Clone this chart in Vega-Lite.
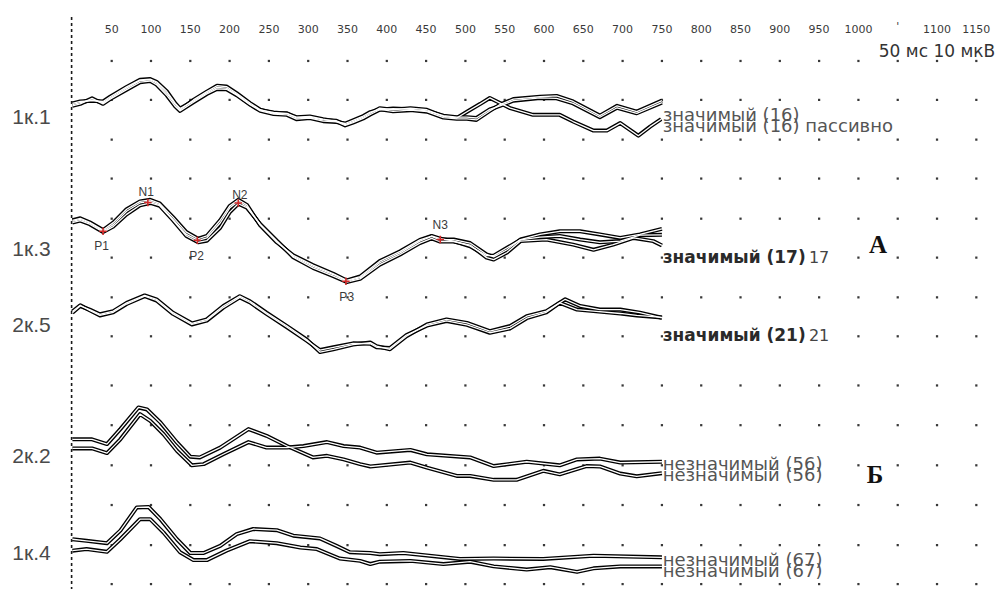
{
  "$schema": "https://vega.github.io/schema/vega-lite/v6.json",
  "width": 997,
  "height": 590,
  "padding": 0,
  "autosize": {"type": "fit", "contains": "padding"},
  "background": "white",
  "view": {"stroke": null},
  "datasets": {
    "dots": [
      {"t":50,"v":15.5},{"t":100,"v":15.5},{"t":150,"v":15.5},{"t":200,"v":15.5},{"t":250,"v":15.5},{"t":300,"v":15.5},{"t":350,"v":15.5},{"t":400,"v":15.5},{"t":450,"v":15.5},{"t":500,"v":15.5},{"t":550,"v":15.5},{"t":600,"v":15.5},{"t":650,"v":15.5},{"t":700,"v":15.5},{"t":750,"v":15.5},{"t":800,"v":15.5},{"t":850,"v":15.5},{"t":900,"v":15.5},{"t":950,"v":15.5},{"t":1000,"v":15.5},{"t":1050,"v":15.5},{"t":1100,"v":15.5},{"t":1150,"v":15.5},
      {"t":50,"v":25.4},{"t":100,"v":25.4},{"t":150,"v":25.4},{"t":200,"v":25.4},{"t":250,"v":25.4},{"t":300,"v":25.4},{"t":350,"v":25.4},{"t":400,"v":25.4},{"t":450,"v":25.4},{"t":500,"v":25.4},{"t":550,"v":25.4},{"t":600,"v":25.4},{"t":650,"v":25.4},{"t":700,"v":25.4},{"t":750,"v":25.4},{"t":800,"v":25.4},{"t":850,"v":25.4},{"t":900,"v":25.4},{"t":950,"v":25.4},{"t":1000,"v":25.4},{"t":1050,"v":25.4},{"t":1100,"v":25.4},{"t":1150,"v":25.4},
      {"t":50,"v":35.5},{"t":100,"v":35.5},{"t":150,"v":35.5},{"t":200,"v":35.5},{"t":250,"v":35.5},{"t":300,"v":35.5},{"t":350,"v":35.5},{"t":400,"v":35.5},{"t":450,"v":35.5},{"t":500,"v":35.5},{"t":550,"v":35.5},{"t":600,"v":35.5},{"t":650,"v":35.5},{"t":700,"v":35.5},{"t":750,"v":35.5},{"t":800,"v":35.5},{"t":850,"v":35.5},{"t":900,"v":35.5},{"t":950,"v":35.5},{"t":1000,"v":35.5},{"t":1050,"v":35.5},{"t":1100,"v":35.5},{"t":1150,"v":35.5},
      {"t":50,"v":45.4},{"t":100,"v":45.4},{"t":150,"v":45.4},{"t":200,"v":45.4},{"t":250,"v":45.4},{"t":300,"v":45.4},{"t":350,"v":45.4},{"t":400,"v":45.4},{"t":450,"v":45.4},{"t":500,"v":45.4},{"t":550,"v":45.4},{"t":600,"v":45.4},{"t":650,"v":45.4},{"t":700,"v":45.4},{"t":750,"v":45.4},{"t":800,"v":45.4},{"t":850,"v":45.4},{"t":900,"v":45.4},{"t":950,"v":45.4},{"t":1000,"v":45.4},{"t":1050,"v":45.4},{"t":1100,"v":45.4},{"t":1150,"v":45.4},
      {"t":50,"v":55.6},{"t":100,"v":55.6},{"t":150,"v":55.6},{"t":200,"v":55.6},{"t":250,"v":55.6},{"t":300,"v":55.6},{"t":350,"v":55.6},{"t":400,"v":55.6},{"t":450,"v":55.6},{"t":500,"v":55.6},{"t":550,"v":55.6},{"t":600,"v":55.6},{"t":650,"v":55.6},{"t":700,"v":55.6},{"t":750,"v":55.6},{"t":800,"v":55.6},{"t":850,"v":55.6},{"t":900,"v":55.6},{"t":950,"v":55.6},{"t":1000,"v":55.6},{"t":1050,"v":55.6},{"t":1100,"v":55.6},{"t":1150,"v":55.6},
      {"t":50,"v":65.5},{"t":100,"v":65.5},{"t":150,"v":65.5},{"t":200,"v":65.5},{"t":250,"v":65.5},{"t":300,"v":65.5},{"t":350,"v":65.5},{"t":400,"v":65.5},{"t":450,"v":65.5},{"t":500,"v":65.5},{"t":550,"v":65.5},{"t":600,"v":65.5},{"t":650,"v":65.5},{"t":700,"v":65.5},{"t":750,"v":65.5},{"t":1000,"v":65.5},{"t":1050,"v":65.5},{"t":1100,"v":65.5},{"t":1150,"v":65.5},
      {"t":50,"v":75.6},{"t":100,"v":75.6},{"t":150,"v":75.6},{"t":200,"v":75.6},{"t":250,"v":75.6},{"t":300,"v":75.6},{"t":350,"v":75.6},{"t":400,"v":75.6},{"t":450,"v":75.6},{"t":500,"v":75.6},{"t":550,"v":75.6},{"t":600,"v":75.6},{"t":650,"v":75.6},{"t":700,"v":75.6},{"t":750,"v":75.6},{"t":800,"v":75.6},{"t":850,"v":75.6},{"t":900,"v":75.6},{"t":950,"v":75.6},{"t":1000,"v":75.6},{"t":1050,"v":75.6},{"t":1100,"v":75.6},{"t":1150,"v":75.6},
      {"t":50,"v":85.5},{"t":100,"v":85.5},{"t":150,"v":85.5},{"t":200,"v":85.5},{"t":250,"v":85.5},{"t":300,"v":85.5},{"t":350,"v":85.5},{"t":400,"v":85.5},{"t":450,"v":85.5},{"t":500,"v":85.5},{"t":550,"v":85.5},{"t":600,"v":85.5},{"t":650,"v":85.5},{"t":700,"v":85.5},{"t":750,"v":85.5},{"t":1000,"v":85.5},{"t":1050,"v":85.5},{"t":1100,"v":85.5},{"t":1150,"v":85.5},
      {"t":50,"v":98.0},{"t":100,"v":98.0},{"t":150,"v":98.0},{"t":200,"v":98.0},{"t":250,"v":98.0},{"t":300,"v":98.0},{"t":350,"v":98.0},{"t":400,"v":98.0},{"t":450,"v":98.0},{"t":500,"v":98.0},{"t":550,"v":98.0},{"t":600,"v":98.0},{"t":650,"v":98.0},{"t":700,"v":98.0},{"t":750,"v":98.0},{"t":800,"v":98.0},{"t":850,"v":98.0},{"t":900,"v":98.0},{"t":950,"v":98.0},{"t":1000,"v":98.0},{"t":1050,"v":98.0},{"t":1100,"v":98.0},{"t":1150,"v":98.0},
      {"t":50,"v":108.1},{"t":100,"v":108.1},{"t":150,"v":108.1},{"t":200,"v":108.1},{"t":250,"v":108.1},{"t":300,"v":108.1},{"t":350,"v":108.1},{"t":400,"v":108.1},{"t":450,"v":108.1},{"t":500,"v":108.1},{"t":550,"v":108.1},{"t":600,"v":108.1},{"t":650,"v":108.1},{"t":700,"v":108.1},{"t":750,"v":108.1},{"t":800,"v":108.1},{"t":850,"v":108.1},{"t":900,"v":108.1},{"t":950,"v":108.1},{"t":1000,"v":108.1},{"t":1050,"v":108.1},{"t":1100,"v":108.1},{"t":1150,"v":108.1},
      {"t":50,"v":118.3},{"t":100,"v":118.3},{"t":150,"v":118.3},{"t":200,"v":118.3},{"t":250,"v":118.3},{"t":300,"v":118.3},{"t":350,"v":118.3},{"t":400,"v":118.3},{"t":450,"v":118.3},{"t":500,"v":118.3},{"t":550,"v":118.3},{"t":600,"v":118.3},{"t":650,"v":118.3},{"t":700,"v":118.3},{"t":750,"v":118.3},{"t":1000,"v":118.3},{"t":1050,"v":118.3},{"t":1100,"v":118.3},{"t":1150,"v":118.3},
      {"t":50,"v":128.4},{"t":100,"v":128.4},{"t":150,"v":128.4},{"t":200,"v":128.4},{"t":250,"v":128.4},{"t":300,"v":128.4},{"t":350,"v":128.4},{"t":400,"v":128.4},{"t":450,"v":128.4},{"t":500,"v":128.4},{"t":550,"v":128.4},{"t":600,"v":128.4},{"t":650,"v":128.4},{"t":700,"v":128.4},{"t":750,"v":128.4},{"t":800,"v":128.4},{"t":850,"v":128.4},{"t":900,"v":128.4},{"t":950,"v":128.4},{"t":1000,"v":128.4},{"t":1050,"v":128.4},{"t":1100,"v":128.4},{"t":1150,"v":128.4},
      {"t":50,"v":138.6},{"t":100,"v":138.6},{"t":150,"v":138.6},{"t":200,"v":138.6},{"t":250,"v":138.6},{"t":300,"v":138.6},{"t":350,"v":138.6},{"t":400,"v":138.6},{"t":450,"v":138.6},{"t":500,"v":138.6},{"t":550,"v":138.6},{"t":600,"v":138.6},{"t":650,"v":138.6},{"t":700,"v":138.6},{"t":750,"v":138.6},{"t":800,"v":138.6},{"t":850,"v":138.6},{"t":900,"v":138.6},{"t":950,"v":138.6},{"t":1000,"v":138.6},{"t":1050,"v":138.6},{"t":1100,"v":138.6},{"t":1150,"v":138.6},
      {"t":50,"v":148.5},{"t":100,"v":148.5},{"t":150,"v":148.5},{"t":200,"v":148.5},{"t":250,"v":148.5},{"t":300,"v":148.5},{"t":350,"v":148.5},{"t":400,"v":148.5},{"t":450,"v":148.5},{"t":500,"v":148.5},{"t":550,"v":148.5},{"t":600,"v":148.5},{"t":650,"v":148.5},{"t":700,"v":148.5},{"t":750,"v":148.5},{"t":800,"v":148.5},{"t":850,"v":148.5},{"t":900,"v":148.5},{"t":950,"v":148.5},{"t":1000,"v":148.5},{"t":1050,"v":148.5},{"t":1100,"v":148.5},{"t":1150,"v":148.5}
    ],
    "onset": [{"t": -1, "v": 4.3, "v2": 149.75}],
    "traces": [
      {"id":"1.1a","t":0,"v":26.6},{"id":"1.1a","t":10,"v":26.1},{"id":"1.1a","t":25,"v":25.4},{"id":"1.1a","t":39,"v":26.1},{"id":"1.1a","t":48,"v":24.9},{"id":"1.1a","t":69,"v":22.4},{"id":"1.1a","t":86,"v":20.5},{"id":"1.1a","t":99,"v":20.3},{"id":"1.1a","t":107,"v":21.1},{"id":"1.1a","t":120,"v":23.7},{"id":"1.1a","t":131,"v":26.6},{"id":"1.1a","t":137,"v":27.9},{"id":"1.1a","t":154,"v":25.4},{"id":"1.1a","t":171,"v":23.3},{"id":"1.1a","t":184,"v":21.8},{"id":"1.1a","t":196,"v":22.0},{"id":"1.1a","t":209,"v":23.7},{"id":"1.1a","t":226,"v":26.2},{"id":"1.1a","t":239,"v":27.9},{"id":"1.1a","t":256,"v":28.8},{"id":"1.1a","t":273,"v":28.8},{"id":"1.1a","t":285,"v":30.0},{"id":"1.1a","t":302,"v":29.8},{"id":"1.1a","t":319,"v":30.5},{"id":"1.1a","t":336,"v":30.7},{"id":"1.1a","t":347,"v":31.7},{"id":"1.1a","t":357,"v":30.9},{"id":"1.1a","t":370,"v":29.8},{"id":"1.1a","t":379,"v":28.8},{"id":"1.1a","t":391,"v":27.5},{"id":"1.1a","t":408,"v":27.9},{"id":"1.1a","t":430,"v":27.5},{"id":"1.1a","t":451,"v":27.9},{"id":"1.1a","t":472,"v":29.6},{"id":"1.1a","t":489,"v":30.0},{"id":"1.1a","t":502,"v":28.4},{"id":"1.1a","t":519,"v":26.4},{"id":"1.1a","t":531,"v":24.9},{"id":"1.1a","t":544,"v":26.2},{"id":"1.1a","t":557,"v":27.5},{"id":"1.1a","t":586,"v":29.2},{"id":"1.1a","t":620,"v":29.2},{"id":"1.1a","t":637,"v":30.9},{"id":"1.1a","t":663,"v":33.2},{"id":"1.1a","t":680,"v":33.2},{"id":"1.1a","t":697,"v":31.3},{"id":"1.1a","t":720,"v":34.5},{"id":"1.1a","t":735,"v":32.2},{"id":"1.1a","t":749,"v":30.3},
      {"id":"1.1b","t":0,"v":26.9},{"id":"1.1b","t":10,"v":26.4},{"id":"1.1b","t":25,"v":25.0},{"id":"1.1b","t":39,"v":26.4},{"id":"1.1b","t":48,"v":25.2},{"id":"1.1b","t":69,"v":22.8},{"id":"1.1b","t":86,"v":20.9},{"id":"1.1b","t":99,"v":20.6},{"id":"1.1b","t":107,"v":21.5},{"id":"1.1b","t":120,"v":24.2},{"id":"1.1b","t":131,"v":27.1},{"id":"1.1b","t":137,"v":28.2},{"id":"1.1b","t":154,"v":26.0},{"id":"1.1b","t":171,"v":23.9},{"id":"1.1b","t":184,"v":22.6},{"id":"1.1b","t":196,"v":22.7},{"id":"1.1b","t":209,"v":24.2},{"id":"1.1b","t":226,"v":26.6},{"id":"1.1b","t":239,"v":28.2},{"id":"1.1b","t":256,"v":29.0},{"id":"1.1b","t":273,"v":29.2},{"id":"1.1b","t":285,"v":30.3},{"id":"1.1b","t":302,"v":30.0},{"id":"1.1b","t":319,"v":30.8},{"id":"1.1b","t":336,"v":31.0},{"id":"1.1b","t":347,"v":31.4},{"id":"1.1b","t":357,"v":30.6},{"id":"1.1b","t":370,"v":29.5},{"id":"1.1b","t":379,"v":28.5},{"id":"1.1b","t":391,"v":27.8},{"id":"1.1b","t":408,"v":28.3},{"id":"1.1b","t":430,"v":28.0},{"id":"1.1b","t":451,"v":28.4},{"id":"1.1b","t":472,"v":29.9},{"id":"1.1b","t":489,"v":30.2},{"id":"1.1b","t":502,"v":30.2},{"id":"1.1b","t":514,"v":30.5},{"id":"1.1b","t":531,"v":28.2},{"id":"1.1b","t":544,"v":26.6},{"id":"1.1b","t":561,"v":25.2},{"id":"1.1b","t":595,"v":24.6},{"id":"1.1b","t":616,"v":24.4},{"id":"1.1b","t":637,"v":25.8},{"id":"1.1b","t":671,"v":29.4},{"id":"1.1b","t":693,"v":26.9},{"id":"1.1b","t":718,"v":28.4},{"id":"1.1b","t":750,"v":25.6},
      {"id":"1.1c","t":0,"v":26.3},{"id":"1.1c","t":10,"v":25.8},{"id":"1.1c","t":25,"v":25.6},{"id":"1.1c","t":39,"v":25.8},{"id":"1.1c","t":48,"v":24.6},{"id":"1.1c","t":69,"v":22.1},{"id":"1.1c","t":86,"v":20.3},{"id":"1.1c","t":99,"v":20.1},{"id":"1.1c","t":107,"v":20.8},{"id":"1.1c","t":120,"v":23.2},{"id":"1.1c","t":131,"v":26.3},{"id":"1.1c","t":137,"v":27.6},{"id":"1.1c","t":154,"v":25.7},{"id":"1.1c","t":171,"v":23.6},{"id":"1.1c","t":184,"v":22.2},{"id":"1.1c","t":196,"v":22.4},{"id":"1.1c","t":209,"v":24.0},{"id":"1.1c","t":226,"v":26.5},{"id":"1.1c","t":239,"v":28.0},{"id":"1.1c","t":256,"v":28.6},{"id":"1.1c","t":273,"v":28.9},{"id":"1.1c","t":285,"v":29.8},{"id":"1.1c","t":302,"v":29.6},{"id":"1.1c","t":319,"v":30.3},{"id":"1.1c","t":336,"v":30.9},{"id":"1.1c","t":347,"v":31.9},{"id":"1.1c","t":357,"v":31.2},{"id":"1.1c","t":370,"v":30.1},{"id":"1.1c","t":379,"v":29.1},{"id":"1.1c","t":391,"v":27.9},{"id":"1.1c","t":408,"v":27.6},{"id":"1.1c","t":430,"v":27.8},{"id":"1.1c","t":451,"v":28.2},{"id":"1.1c","t":472,"v":29.4},{"id":"1.1c","t":489,"v":29.8},{"id":"1.1c","t":502,"v":29.8},{"id":"1.1c","t":514,"v":30.0},{"id":"1.1c","t":531,"v":27.8},{"id":"1.1c","t":544,"v":26.9},{"id":"1.1c","t":561,"v":25.6},{"id":"1.1c","t":595,"v":24.9},{"id":"1.1c","t":616,"v":25.0},{"id":"1.1c","t":637,"v":26.3},{"id":"1.1c","t":671,"v":29.8},{"id":"1.1c","t":693,"v":27.4},{"id":"1.1c","t":718,"v":28.8},{"id":"1.1c","t":750,"v":26.1},
      {"id":"1.3a","t":0,"v":56.3},{"id":"1.3a","t":10,"v":55.8},{"id":"1.3a","t":22,"v":56.7},{"id":"1.3a","t":39,"v":58.8},{"id":"1.3a","t":52,"v":57.1},{"id":"1.3a","t":69,"v":53.7},{"id":"1.3a","t":86,"v":51.6},{"id":"1.3a","t":99,"v":51.2},{"id":"1.3a","t":111,"v":52.0},{"id":"1.3a","t":128,"v":55.8},{"id":"1.3a","t":145,"v":59.6},{"id":"1.3a","t":160,"v":61.1},{"id":"1.3a","t":171,"v":60.5},{"id":"1.3a","t":188,"v":56.7},{"id":"1.3a","t":200,"v":52.9},{"id":"1.3a","t":211,"v":51.2},{"id":"1.3a","t":222,"v":52.5},{"id":"1.3a","t":239,"v":57.1},{"id":"1.3a","t":260,"v":61.3},{"id":"1.3a","t":281,"v":65.2},{"id":"1.3a","t":306,"v":67.7},{"id":"1.3a","t":332,"v":69.8},{"id":"1.3a","t":349,"v":71.5},{"id":"1.3a","t":366,"v":70.6},{"id":"1.3a","t":391,"v":66.8},{"id":"1.3a","t":417,"v":64.3},{"id":"1.3a","t":442,"v":61.3},{"id":"1.3a","t":457,"v":60.1},{"id":"1.3a","t":467,"v":60.9},{"id":"1.3a","t":485,"v":60.9},{"id":"1.3a","t":506,"v":61.8},{"id":"1.3a","t":527,"v":64.7},{"id":"1.3a","t":536,"v":65.3},{"id":"1.3a","t":553,"v":63.5},{"id":"1.3a","t":570,"v":60.9},{"id":"1.3a","t":595,"v":59.6},{"id":"1.3a","t":620,"v":58.8},{"id":"1.3a","t":646,"v":58.8},{"id":"1.3a","t":671,"v":59.6},{"id":"1.3a","t":697,"v":60.5},{"id":"1.3a","t":722,"v":59.6},{"id":"1.3a","t":750,"v":58.2},
      {"id":"1.3b","t":0,"v":56.6},{"id":"1.3b","t":10,"v":56.1},{"id":"1.3b","t":22,"v":57.0},{"id":"1.3b","t":39,"v":59.0},{"id":"1.3b","t":52,"v":57.6},{"id":"1.3b","t":69,"v":54.5},{"id":"1.3b","t":86,"v":52.2},{"id":"1.3b","t":99,"v":51.6},{"id":"1.3b","t":111,"v":52.3},{"id":"1.3b","t":128,"v":56.0},{"id":"1.3b","t":145,"v":60.0},{"id":"1.3b","t":160,"v":61.6},{"id":"1.3b","t":171,"v":61.2},{"id":"1.3b","t":188,"v":57.9},{"id":"1.3b","t":200,"v":54.0},{"id":"1.3b","t":211,"v":51.8},{"id":"1.3b","t":222,"v":52.8},{"id":"1.3b","t":239,"v":57.0},{"id":"1.3b","t":260,"v":61.2},{"id":"1.3b","t":281,"v":65.4},{"id":"1.3b","t":306,"v":68.1},{"id":"1.3b","t":332,"v":70.2},{"id":"1.3b","t":349,"v":71.7},{"id":"1.3b","t":366,"v":70.9},{"id":"1.3b","t":391,"v":67.3},{"id":"1.3b","t":417,"v":64.7},{"id":"1.3b","t":442,"v":61.8},{"id":"1.3b","t":457,"v":60.6},{"id":"1.3b","t":467,"v":61.4},{"id":"1.3b","t":485,"v":61.4},{"id":"1.3b","t":506,"v":62.3},{"id":"1.3b","t":527,"v":65.5},{"id":"1.3b","t":536,"v":66.0},{"id":"1.3b","t":553,"v":64.2},{"id":"1.3b","t":570,"v":61.3},{"id":"1.3b","t":603,"v":60.9},{"id":"1.3b","t":637,"v":62.2},{"id":"1.3b","t":663,"v":63.5},{"id":"1.3b","t":688,"v":62.2},{"id":"1.3b","t":714,"v":60.5},{"id":"1.3b","t":739,"v":61.3},{"id":"1.3b","t":750,"v":62.4},
      {"id":"1.3c","t":0,"v":56.0},{"id":"1.3c","t":10,"v":55.5},{"id":"1.3c","t":22,"v":56.5},{"id":"1.3c","t":39,"v":58.5},{"id":"1.3c","t":52,"v":56.6},{"id":"1.3c","t":69,"v":53.2},{"id":"1.3c","t":86,"v":51.2},{"id":"1.3c","t":99,"v":50.8},{"id":"1.3c","t":111,"v":51.7},{"id":"1.3c","t":128,"v":55.2},{"id":"1.3c","t":145,"v":59.0},{"id":"1.3c","t":160,"v":60.7},{"id":"1.3c","t":171,"v":60.0},{"id":"1.3c","t":188,"v":56.0},{"id":"1.3c","t":200,"v":52.4},{"id":"1.3c","t":211,"v":50.8},{"id":"1.3c","t":222,"v":52.1},{"id":"1.3c","t":239,"v":57.3},{"id":"1.3c","t":260,"v":61.6},{"id":"1.3c","t":281,"v":64.9},{"id":"1.3c","t":306,"v":67.4},{"id":"1.3c","t":332,"v":69.6},{"id":"1.3c","t":349,"v":71.3},{"id":"1.3c","t":366,"v":70.3},{"id":"1.3c","t":391,"v":66.4},{"id":"1.3c","t":417,"v":63.9},{"id":"1.3c","t":442,"v":61.0},{"id":"1.3c","t":457,"v":60.0},{"id":"1.3c","t":467,"v":60.6},{"id":"1.3c","t":485,"v":61.3},{"id":"1.3c","t":506,"v":62.6},{"id":"1.3c","t":527,"v":65.0},{"id":"1.3c","t":536,"v":65.0},{"id":"1.3c","t":553,"v":63.0},{"id":"1.3c","t":570,"v":61.0},{"id":"1.3c","t":595,"v":60.3},{"id":"1.3c","t":620,"v":60.0},{"id":"1.3c","t":646,"v":60.9},{"id":"1.3c","t":671,"v":61.6},{"id":"1.3c","t":697,"v":61.3},{"id":"1.3c","t":722,"v":59.8},{"id":"1.3c","t":750,"v":59.7},
      {"id":"2.5a","t":0,"v":79.5},{"id":"2.5a","t":10,"v":77.8},{"id":"2.5a","t":22,"v":78.7},{"id":"2.5a","t":35,"v":79.9},{"id":"2.5a","t":52,"v":79.1},{"id":"2.5a","t":69,"v":77.0},{"id":"2.5a","t":92,"v":75.1},{"id":"2.5a","t":107,"v":76.1},{"id":"2.5a","t":128,"v":79.5},{"id":"2.5a","t":152,"v":82.2},{"id":"2.5a","t":171,"v":81.2},{"id":"2.5a","t":192,"v":77.8},{"id":"2.5a","t":213,"v":75.3},{"id":"2.5a","t":226,"v":76.6},{"id":"2.5a","t":247,"v":79.5},{"id":"2.5a","t":273,"v":82.9},{"id":"2.5a","t":298,"v":86.3},{"id":"2.5a","t":315,"v":89.5},{"id":"2.5a","t":332,"v":88.8},{"id":"2.5a","t":357,"v":87.6},{"id":"2.5a","t":379,"v":87.1},{"id":"2.5a","t":387,"v":88.0},{"id":"2.5a","t":404,"v":88.8},{"id":"2.5a","t":425,"v":85.5},{"id":"2.5a","t":451,"v":82.5},{"id":"2.5a","t":476,"v":81.2},{"id":"2.5a","t":502,"v":82.1},{"id":"2.5a","t":531,"v":84.2},{"id":"2.5a","t":557,"v":82.9},{"id":"2.5a","t":578,"v":80.4},{"id":"2.5a","t":603,"v":79.1},{"id":"2.5a","t":627,"v":76.1},{"id":"2.5a","t":646,"v":77.8},{"id":"2.5a","t":671,"v":78.7},{"id":"2.5a","t":697,"v":78.7},{"id":"2.5a","t":722,"v":79.5},{"id":"2.5a","t":750,"v":80.8},
      {"id":"2.5b","t":0,"v":79.2},{"id":"2.5b","t":10,"v":77.6},{"id":"2.5b","t":22,"v":78.9},{"id":"2.5b","t":35,"v":80.2},{"id":"2.5b","t":52,"v":79.4},{"id":"2.5b","t":69,"v":77.3},{"id":"2.5b","t":92,"v":75.3},{"id":"2.5b","t":107,"v":76.4},{"id":"2.5b","t":128,"v":79.8},{"id":"2.5b","t":152,"v":82.5},{"id":"2.5b","t":171,"v":81.5},{"id":"2.5b","t":192,"v":78.2},{"id":"2.5b","t":213,"v":75.6},{"id":"2.5b","t":226,"v":76.9},{"id":"2.5b","t":247,"v":79.8},{"id":"2.5b","t":273,"v":83.2},{"id":"2.5b","t":298,"v":86.6},{"id":"2.5b","t":315,"v":89.0},{"id":"2.5b","t":332,"v":88.3},{"id":"2.5b","t":357,"v":87.3},{"id":"2.5b","t":379,"v":87.4},{"id":"2.5b","t":387,"v":88.3},{"id":"2.5b","t":404,"v":88.5},{"id":"2.5b","t":425,"v":85.2},{"id":"2.5b","t":451,"v":82.8},{"id":"2.5b","t":476,"v":81.6},{"id":"2.5b","t":502,"v":82.6},{"id":"2.5b","t":531,"v":84.6},{"id":"2.5b","t":557,"v":83.5},{"id":"2.5b","t":578,"v":80.9},{"id":"2.5b","t":603,"v":79.4},{"id":"2.5b","t":620,"v":77.0},{"id":"2.5b","t":642,"v":78.7},{"id":"2.5b","t":663,"v":79.1},{"id":"2.5b","t":697,"v":79.7},{"id":"2.5b","t":718,"v":80.2},{"id":"2.5b","t":750,"v":80.7},
      {"id":"2.2a","t":0,"v":111.7},{"id":"2.2a","t":25,"v":111.7},{"id":"2.2a","t":44,"v":112.9},{"id":"2.2a","t":61,"v":109.1},{"id":"2.2a","t":84,"v":103.6},{"id":"2.2a","t":95,"v":104.1},{"id":"2.2a","t":112,"v":107.4},{"id":"2.2a","t":133,"v":112.5},{"id":"2.2a","t":150,"v":116.1},{"id":"2.2a","t":162,"v":116.3},{"id":"2.2a","t":188,"v":113.8},{"id":"2.2a","t":224,"v":109.1},{"id":"2.2a","t":247,"v":110.8},{"id":"2.2a","t":273,"v":113.4},{"id":"2.2a","t":306,"v":116.3},{"id":"2.2a","t":324,"v":115.9},{"id":"2.2a","t":345,"v":116.8},{"id":"2.2a","t":366,"v":118.0},{"id":"2.2a","t":379,"v":118.6},{"id":"2.2a","t":430,"v":117.6},{"id":"2.2a","t":451,"v":118.9},{"id":"2.2a","t":489,"v":121.0},{"id":"2.2a","t":506,"v":121.0},{"id":"2.2a","t":536,"v":122.0},{"id":"2.2a","t":565,"v":122.0},{"id":"2.2a","t":599,"v":119.7},{"id":"2.2a","t":620,"v":120.6},{"id":"2.2a","t":654,"v":118.5},{"id":"2.2a","t":671,"v":118.6},{"id":"2.2a","t":697,"v":120.4},{"id":"2.2a","t":718,"v":121.1},{"id":"2.2a","t":750,"v":120.3},
      {"id":"2.2b","t":0,"v":114.0},{"id":"2.2b","t":25,"v":114.0},{"id":"2.2b","t":44,"v":115.2},{"id":"2.2b","t":61,"v":111.7},{"id":"2.2b","t":86,"v":105.3},{"id":"2.2b","t":99,"v":107.0},{"id":"2.2b","t":116,"v":110.4},{"id":"2.2b","t":133,"v":114.6},{"id":"2.2b","t":152,"v":118.3},{"id":"2.2b","t":167,"v":118.0},{"id":"2.2b","t":192,"v":115.5},{"id":"2.2b","t":224,"v":112.4},{"id":"2.2b","t":247,"v":113.8},{"id":"2.2b","t":273,"v":113.8},{"id":"2.2b","t":294,"v":113.4},{"id":"2.2b","t":324,"v":112.4},{"id":"2.2b","t":345,"v":113.4},{"id":"2.2b","t":366,"v":113.8},{"id":"2.2b","t":387,"v":115.1},{"id":"2.2b","t":430,"v":114.4},{"id":"2.2b","t":451,"v":115.5},{"id":"2.2b","t":506,"v":116.3},{"id":"2.2b","t":536,"v":118.5},{"id":"2.2b","t":578,"v":117.4},{"id":"2.2b","t":620,"v":118.3},{"id":"2.2b","t":642,"v":116.8},{"id":"2.2b","t":671,"v":116.6},{"id":"2.2b","t":697,"v":117.6},{"id":"2.2b","t":750,"v":117.4},
      {"id":"1.4a","t":0,"v":137.1},{"id":"1.4a","t":18,"v":137.5},{"id":"1.4a","t":44,"v":138.1},{"id":"1.4a","t":61,"v":134.9},{"id":"1.4a","t":82,"v":129.0},{"id":"1.4a","t":97,"v":128.9},{"id":"1.4a","t":112,"v":132.0},{"id":"1.4a","t":133,"v":137.1},{"id":"1.4a","t":150,"v":140.6},{"id":"1.4a","t":167,"v":140.6},{"id":"1.4a","t":188,"v":138.8},{"id":"1.4a","t":209,"v":135.8},{"id":"1.4a","t":230,"v":134.5},{"id":"1.4a","t":260,"v":134.8},{"id":"1.4a","t":281,"v":136.2},{"id":"1.4a","t":315,"v":136.9},{"id":"1.4a","t":336,"v":138.8},{"id":"1.4a","t":353,"v":140.4},{"id":"1.4a","t":379,"v":140.6},{"id":"1.4a","t":391,"v":140.9},{"id":"1.4a","t":421,"v":140.6},{"id":"1.4a","t":493,"v":142.1},{"id":"1.4a","t":536,"v":142.0},{"id":"1.4a","t":599,"v":142.1},{"id":"1.4a","t":663,"v":141.3},{"id":"1.4a","t":750,"v":141.7},
      {"id":"1.4b","t":0,"v":140.0},{"id":"1.4b","t":18,"v":139.6},{"id":"1.4b","t":44,"v":140.3},{"id":"1.4b","t":61,"v":137.1},{"id":"1.4b","t":86,"v":132.0},{"id":"1.4b","t":99,"v":132.0},{"id":"1.4b","t":116,"v":135.4},{"id":"1.4b","t":137,"v":140.4},{"id":"1.4b","t":154,"v":142.4},{"id":"1.4b","t":171,"v":142.4},{"id":"1.4b","t":196,"v":140.0},{"id":"1.4b","t":226,"v":137.6},{"id":"1.4b","t":260,"v":138.1},{"id":"1.4b","t":290,"v":139.2},{"id":"1.4b","t":311,"v":139.6},{"id":"1.4b","t":340,"v":142.0},{"id":"1.4b","t":366,"v":142.6},{"id":"1.4b","t":379,"v":143.4},{"id":"1.4b","t":391,"v":142.8},{"id":"1.4b","t":430,"v":142.6},{"id":"1.4b","t":472,"v":143.4},{"id":"1.4b","t":506,"v":142.8},{"id":"1.4b","t":536,"v":144.0},{"id":"1.4b","t":578,"v":144.8},{"id":"1.4b","t":608,"v":144.2},{"id":"1.4b","t":642,"v":145.4},{"id":"1.4b","t":663,"v":144.5},{"id":"1.4b","t":697,"v":144.0},{"id":"1.4b","t":750,"v":144.0}
    ],
    "peaks": [
      {"peak":"P1","t":39,"v":58.8},{"peak":"N1","t":96,"v":51.5},{"peak":"P2","t":159,"v":61.1},{"peak":"N2","t":211,"v":51.6},{"peak":"P3","t":348,"v":71.5},{"peak":"N3","t":468,"v":60.9}
    ],
    "labels": [
      {"role":"axis","t":50,"v":7.6,"text":"50"},{"role":"axis","t":100,"v":7.6,"text":"100"},{"role":"axis","t":150,"v":7.6,"text":"150"},{"role":"axis","t":200,"v":7.6,"text":"200"},{"role":"axis","t":250,"v":7.6,"text":"250"},{"role":"axis","t":300,"v":7.6,"text":"300"},{"role":"axis","t":350,"v":7.6,"text":"350"},{"role":"axis","t":400,"v":7.6,"text":"400"},{"role":"axis","t":450,"v":7.6,"text":"450"},{"role":"axis","t":500,"v":7.6,"text":"500"},{"role":"axis","t":550,"v":7.6,"text":"550"},{"role":"axis","t":600,"v":7.6,"text":"600"},{"role":"axis","t":650,"v":7.6,"text":"650"},{"role":"axis","t":700,"v":7.6,"text":"700"},{"role":"axis","t":750,"v":7.6,"text":"750"},{"role":"axis","t":800,"v":7.6,"text":"800"},{"role":"axis","t":850,"v":7.6,"text":"850"},{"role":"axis","t":900,"v":7.6,"text":"900"},{"role":"axis","t":950,"v":7.6,"text":"950"},{"role":"axis","t":1000,"v":7.6,"text":"1000"},{"role":"axis","t":1050,"v":6.8,"text":"'"},{"role":"axis","t":1100,"v":7.6,"text":"1100"},{"role":"axis","t":1150,"v":7.6,"text":"1150"},
      {"role":"channel","t":-52,"v":30.0,"text":"1к.1"},{"role":"channel","t":-52,"v":63.5,"text":"1к.3"},{"role":"channel","t":-52,"v":82.9,"text":"2к.5"},{"role":"channel","t":-52,"v":116.3,"text":"2к.2"},{"role":"channel","t":-52,"v":140.9,"text":"1к.4"},
      {"role":"peak","t":37,"v":62.6,"text":"P1"},{"role":"peak","t":94,"v":48.7,"text":"N1"},{"role":"peak","t":158,"v":65.2,"text":"P2"},{"role":"peak","t":213,"v":49.5,"text":"N2"},{"role":"peak","t":349,"v":75.6,"text":"P3"},{"role":"peak","t":468,"v":57.1,"text":"N3"},
      {"role":"note","t":751,"v":29.4,"text":"значимый (16)"},{"role":"note","t":751,"v":32.2,"text":"значимый (16) пассивно"},
      {"role":"note","t":751,"v":118.3,"text":"незначимый (56)"},{"role":"note","t":751,"v":121.1,"text":"незначимый (56)"},
      {"role":"note","t":751,"v":142.6,"text":"незначимый (67)"},{"role":"note","t":751,"v":145.4,"text":"незначимый (67)"},
      {"role":"strong","t":751,"v":65.5,"text":"значимый (17)"},{"role":"strong","t":751,"v":85.5,"text":"значимый (21)"},
      {"role":"count","t":937,"v":65.5,"text":"17"},{"role":"count","t":937,"v":85.5,"text":"21"},
      {"role":"panel","t":1025,"v":62.4,"text":"А"},{"role":"panel","t":1021,"v":120.8,"text":"Б"},
      {"role":"scale","t":1174,"v":13.2,"text":"50 мс 10 мкВ"}
    ]
  },
  "encoding": {
    "x": {"field": "t", "type": "quantitative", "axis": null,
          "scale": {"domain": [-92.1, 1176.3], "nice": false, "zero": false}},
    "y": {"field": "v", "type": "quantitative", "axis": null,
          "scale": {"domain": [0, 149.75], "reverse": true, "nice": false, "zero": false}}
  },
  "layer": [
    {
      "data": {"name": "dots"},
      "mark": {"type": "point", "shape": "square", "size": 5, "filled": true, "color": "#222222", "opacity": 0.9}
    },
    {
      "data": {"name": "onset"},
      "mark": {"type": "rule", "color": "#1a1a1a", "strokeWidth": 1.6, "strokeDash": [3, 3]},
      "encoding": {"y2": {"field": "v2"}}
    },
    {
      "data": {"name": "traces"},
      "mark": {"type": "line", "color": "#000000", "strokeWidth": 4, "strokeJoin": "round"},
      "encoding": {"detail": {"field": "id"}}
    },
    {
      "data": {"name": "traces"},
      "mark": {"type": "line", "color": "#ffffff", "strokeWidth": 1.3, "strokeJoin": "round"},
      "encoding": {"detail": {"field": "id"}}
    },
    {
      "data": {"name": "peaks"},
      "mark": {"type": "point", "shape": "M-1,0L1,0M0,-1L0,1", "size": 55, "filled": false, "stroke": "#d02828", "strokeWidth": 1.6, "opacity": 1}
    },
    {
      "data": {"name": "labels"},
      "transform": [{"filter": "datum.role === 'axis'"}],
      "mark": {"type": "text", "font": "DejaVu Sans", "fontSize": 11, "color": "#3a3a3a", "align": "center", "baseline": "middle"},
      "encoding": {"text": {"field": "text"}}
    },
    {
      "data": {"name": "labels"},
      "transform": [{"filter": "datum.role === 'channel'"}],
      "mark": {"type": "text", "font": "Liberation Sans", "fontSize": 21, "color": "#4a4a4a", "align": "center", "baseline": "middle"},
      "encoding": {"text": {"field": "text"}}
    },
    {
      "data": {"name": "labels"},
      "transform": [{"filter": "datum.role === 'peak'"}],
      "mark": {"type": "text", "font": "Liberation Sans", "fontSize": 12, "color": "#3a3a3a", "align": "center", "baseline": "middle"},
      "encoding": {"text": {"field": "text"}}
    },
    {
      "data": {"name": "labels"},
      "transform": [{"filter": "datum.role === 'note'"}],
      "mark": {"type": "text", "font": "DejaVu Sans", "fontSize": 18, "color": "#555555", "align": "left", "baseline": "middle"},
      "encoding": {"text": {"field": "text"}}
    },
    {
      "data": {"name": "labels"},
      "transform": [{"filter": "datum.role === 'strong'"}],
      "mark": {"type": "text", "font": "DejaVu Sans", "fontSize": 17, "fontWeight": "bold", "color": "#2a2a2a", "align": "left", "baseline": "middle"},
      "encoding": {"text": {"field": "text"}}
    },
    {
      "data": {"name": "labels"},
      "transform": [{"filter": "datum.role === 'count'"}],
      "mark": {"type": "text", "font": "DejaVu Sans", "fontSize": 16, "color": "#444444", "align": "left", "baseline": "middle"},
      "encoding": {"text": {"field": "text"}}
    },
    {
      "data": {"name": "labels"},
      "transform": [{"filter": "datum.role === 'panel'"}],
      "mark": {"type": "text", "font": "Liberation Serif", "fontSize": 25, "fontWeight": "bold", "color": "#111111", "align": "center", "baseline": "middle"},
      "encoding": {"text": {"field": "text"}}
    },
    {
      "data": {"name": "labels"},
      "transform": [{"filter": "datum.role === 'scale'"}],
      "mark": {"type": "text", "font": "DejaVu Sans", "fontSize": 17, "color": "#333333", "align": "right", "baseline": "middle"},
      "encoding": {"text": {"field": "text"}}
    }
  ]
}
